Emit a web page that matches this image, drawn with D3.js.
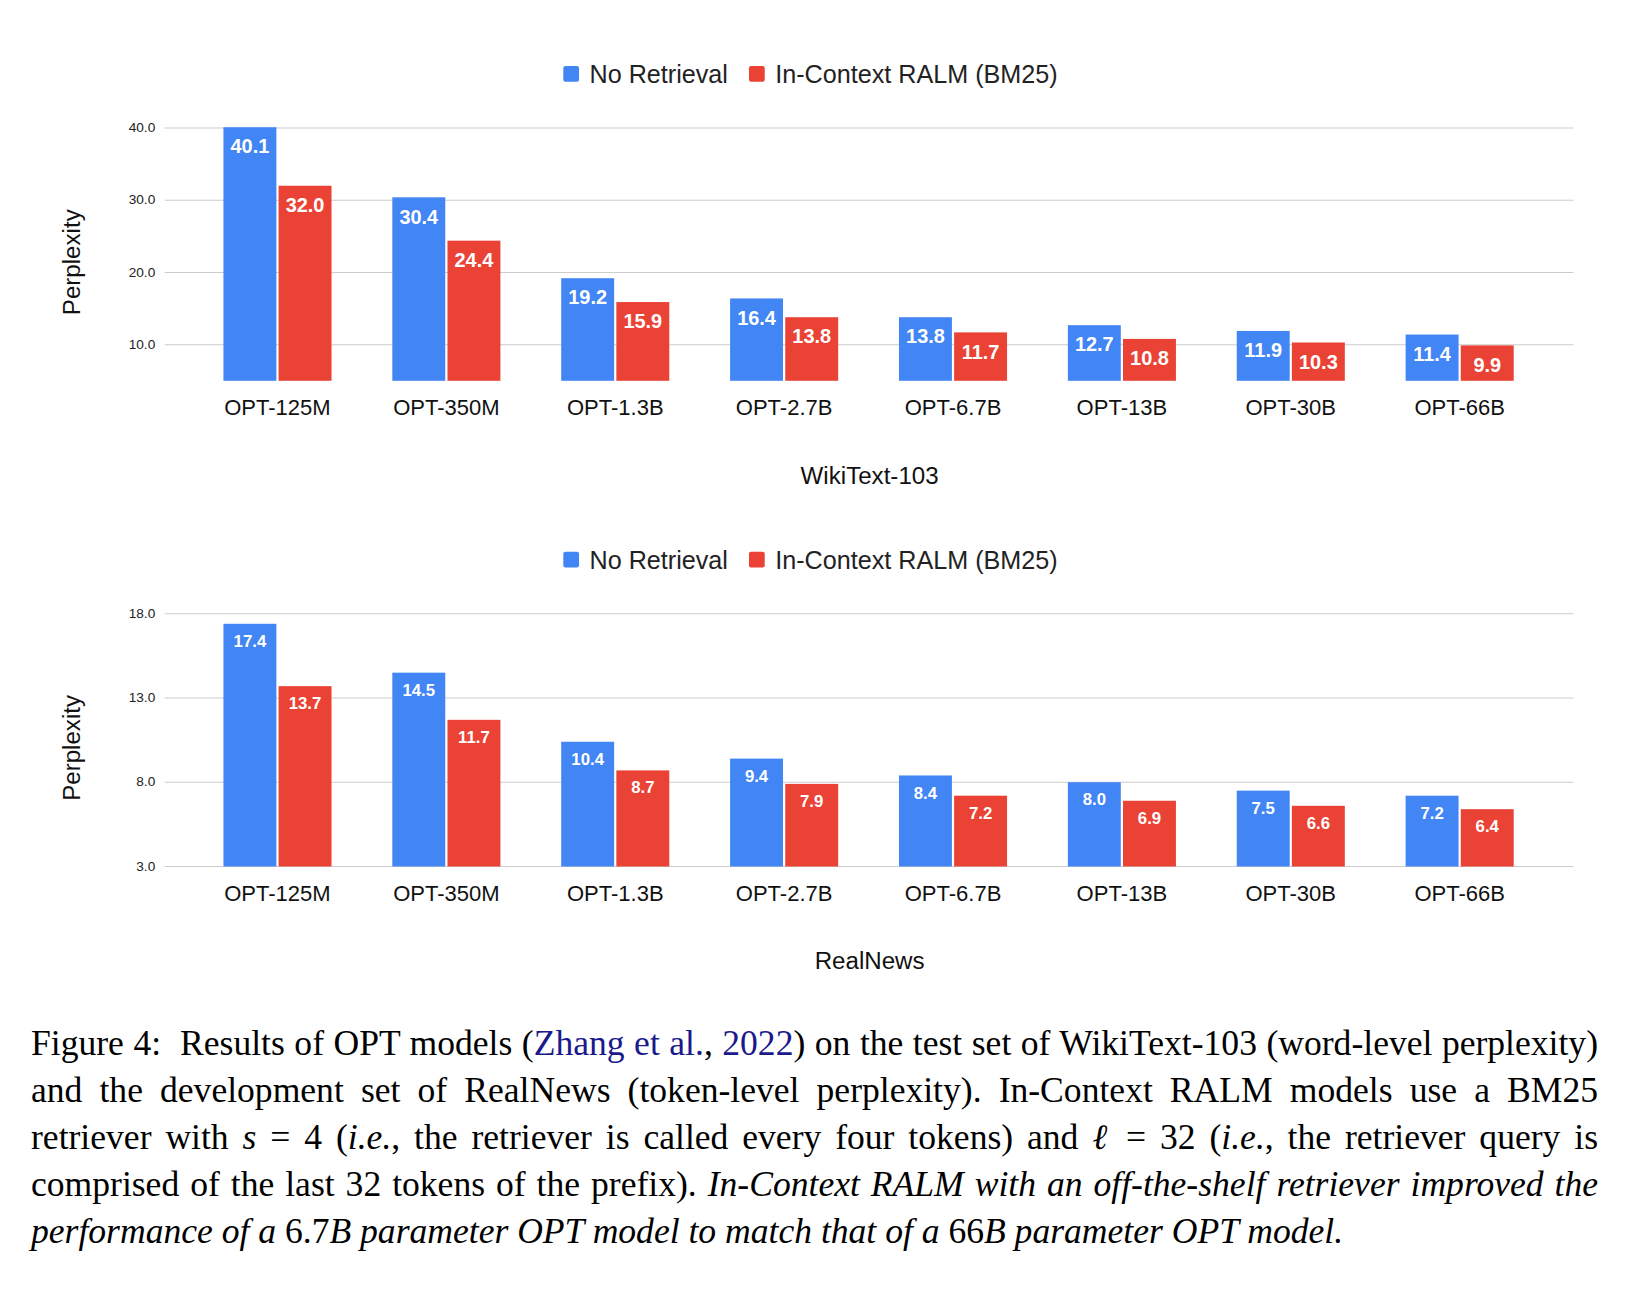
<!DOCTYPE html>
<html>
<head>
<meta charset="utf-8" />
<script src="https://d3js.org/d3.v7.min.js"></script>
<style>
	body { margin: 0; background: #fff; width: 1636px; height: 1291px; position: relative; overflow: hidden; }
	svg { position: absolute; left: 0; top: 0; }
	#caption {
		position: absolute; left: 31px; top: 1020px; width: 1567px;
		font-family: "Liberation Serif", serif; font-size: 35.6px; line-height: 47px;
		text-align: justify; color: #000;
	}
	#caption a { color: #1a1a8c; text-decoration: none; }
	.m { white-space: nowrap; }
</style>
</head>
<body>
<div id="caption">Figure 4: &nbsp;Results of OPT models (<a>Zhang et al.</a>, <a>2022</a>) on the test set of WikiText-103 (word-level perplexity) and the development set of RealNews (token-level perplexity). In-Context RALM models use a BM25 retriever with <span class="m"><i>s</i> = 4</span> (<i>i.e.</i>, the retriever is called every four tokens) and <span class="m"><i>ℓ</i> = 32</span> (<i>i.e.</i>, the retriever query is comprised of the last 32 tokens of the prefix). <i>In-Context RALM with an off-the-shelf retriever improved the performance of a</i> 6.7<i>B parameter OPT model to match that of a</i> 66<i>B parameter OPT model.</i></div>
<script>
const models = ["OPT-125M", "OPT-350M", "OPT-1.3B", "OPT-2.7B", "OPT-6.7B", "OPT-13B", "OPT-30B", "OPT-66B"];
const seriesNames = ["No Retrieval", "In-Context RALM (BM25)"];
const colors = ["#4285f4", "#ea4335"];
const wikiNoRet = [40.1, 30.4, 19.2, 16.4, 13.8, 12.7, 11.9, 11.4];
const wikiRalm = [32.0, 24.4, 15.9, 13.8, 11.7, 10.8, 10.3, 9.9];
const wikiTicks = [10, 20, 30, 40];
const newsNoRet = [17.4, 14.5, 10.4, 9.4, 8.4, 8.0, 7.5, 7.2];
const newsRalm = [13.7, 11.7, 8.7, 7.9, 7.2, 6.9, 6.6, 6.4];
const newsTicks = [3, 8, 13, 18];

const svg = d3.select("body").append("svg").attr("width", 1636).attr("height", 1010);
const root = svg.append("g").attr("transform", "scale(1.049)");

function panel(top, vals, domain, ticks, title, labelSize) {
	const g = root.append("g");
	const y = d3.scaleLinear().domain(domain).range([top + 241, top]);
	const x0 = d3.scaleBand().domain(models).range([213, 1443]).paddingInner(0.36).paddingOuter(0);
	const x1 = d3.scaleBand().domain([0, 1]).range([0, x0.bandwidth()]).paddingInner(0.04);

	// legend
	const leg = g.append("g").attr("font-family", "Liberation Sans, Arial, sans-serif").attr("font-size", 24);
	const lx = [537, 714];
	seriesNames.forEach((s, i) => {
		leg.append("rect").attr("x", lx[i]).attr("y", top - 59).attr("width", 15).attr("height", 15).attr("rx", 2).attr("fill", colors[i]);
		leg.append("text").attr("x", lx[i] + 25).attr("y", top - 43).attr("fill", "#222").text(s);
	});

	// grid
	g.selectAll(".grid").data(ticks).join("line")
		.attr("x1", 157).attr("x2", 1500).attr("y1", d => y(d)).attr("y2", d => y(d))
		.attr("stroke", "#ccc").attr("stroke-width", 1);
	g.selectAll(".tick").data(ticks).join("text")
		.attr("x", 148).attr("y", d => y(d) + 4).attr("text-anchor", "end")
		.attr("font-family", "Liberation Sans, Arial, sans-serif").attr("font-size", 13).attr("fill", "#222")
		.text(d => d.toFixed(1));

	// bars
	models.forEach((m, i) => {
		[vals[0][i], vals[1][i]].forEach((v, k) => {
			const bx = x0(m) + x1(k);
			g.append("rect").attr("x", bx).attr("y", y(v)).attr("width", x1.bandwidth())
				.attr("height", y(domain[0]) - y(v)).attr("fill", colors[k]);
			g.append("text").attr("x", bx + x1.bandwidth() / 2).attr("y", y(v) + labelSize + 6)
				.attr("text-anchor", "middle").attr("fill", "#fff")
				.attr("font-family", "Liberation Sans, Arial, sans-serif").attr("font-size", labelSize).attr("font-weight", "bold")
				.text(v.toFixed(1));
		});
		g.append("text").attr("x", x0(m) + x0.bandwidth() / 2).attr("y", top + 274)
			.attr("text-anchor", "middle").attr("font-family", "Liberation Sans, Arial, sans-serif")
			.attr("font-size", 21).attr("fill", "#111").text(m);
	});

	g.append("text").attr("x", 829).attr("y", top + 339).attr("text-anchor", "middle")
		.attr("font-family", "Liberation Sans, Arial, sans-serif").attr("font-size", 23).attr("fill", "#111").text(title);
	g.append("text").attr("transform", `translate(76,${top + 128}) rotate(-90)`).attr("text-anchor", "middle")
		.attr("font-family", "Liberation Sans, Arial, sans-serif").attr("font-size", 23).attr("fill", "#111").text("Perplexity");
}

panel(122, [wikiNoRet, wikiRalm], [5, 40], wikiTicks, "WikiText-103", 19);
panel(585, [newsNoRet, newsRalm], [3, 18], newsTicks, "RealNews", 16);
</script>
</body>
</html>
